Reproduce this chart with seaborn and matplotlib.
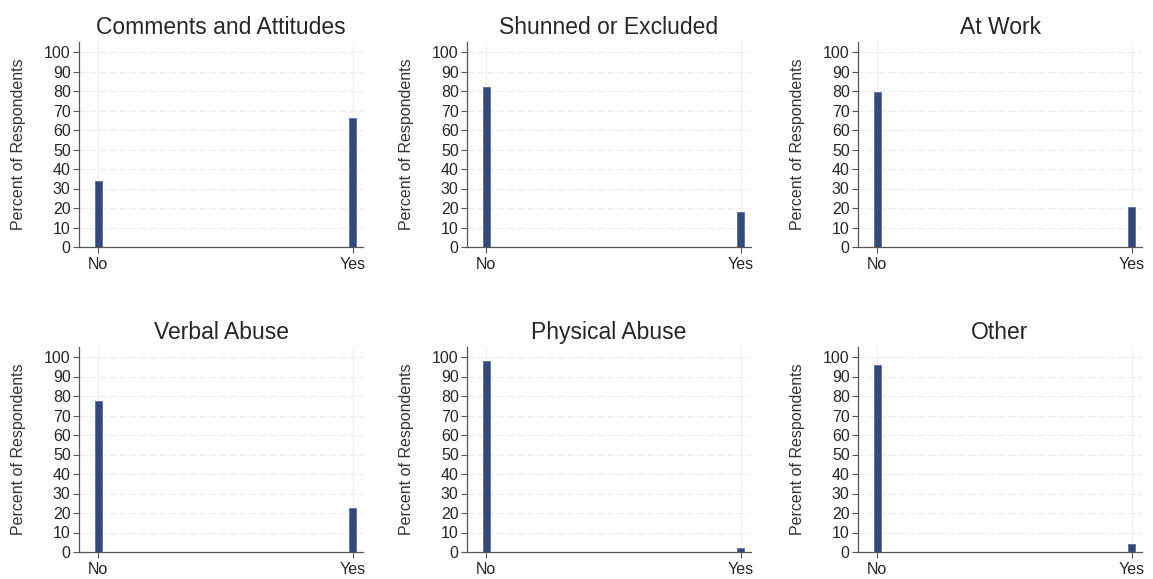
import pandas as pd
import matplotlib.pyplot as plt
import seaborn as sns

# %% data

titles = ['Comments and Attitudes', 'Shunned or Excluded', 'At Work',
          'Verbal Abuse', 'Physical Abuse', 'Other']
answers = ['No', 'Yes']
pct_no = [33.7, 82.0, 79.5, 77.5, 98.0, 96.0]
pct_yes = [66.3, 18.0, 20.5, 22.5, 2.0, 4.0]

# %% plot

sns.set_style('ticks')
plt.rcParams['font.family'] = ['Liberation Sans', 'DejaVu Sans']

fig = plt.figure(figsize=(11.53, 5.79), dpi=100)

lefts = [79, 467, 858]
bottoms = [247, 552]  # pixel row of y=0
ax_w = 284 / 1153
px_per_unit = 1.95  # pixels per percent point

for i, title in enumerate(titles):
    row, col = divmod(i, 3)
    y0 = 1 - bottoms[row] / 579
    ax_h = 105 * px_per_unit / 579
    ax = fig.add_axes([lefts[col] / 1153, y0, ax_w, ax_h])

    df = pd.DataFrame({'x': [0, 1], 'pct': [pct_no[i], pct_yes[i]]})
    for yv in range(10, 101, 10):
        ax.axhline(yv, color='#e8ebf0', lw=0.8, ls=(0, (6, 3)), zorder=0)
    for xv in [0, 1]:
        ax.axvline(xv, color='#eeeeee', lw=0.8, zorder=0)
    sns.barplot(data=df, x='x', y='pct', native_scale=True, width=0.028,
                color='#34497a', edgecolor='#5b6f9e', linewidth=0.6,
                saturation=1, ax=ax, zorder=2)

    ax.set_xlim(-0.075, 1.04)
    ax.set_ylim(0, 105)
    ax.set_yticks(range(0, 101, 10))
    ax.set_xticks([0, 1])
    ax.set_xticklabels(answers)
    ax.tick_params(axis='both', labelsize=11.5, length=4, width=0.8,
                   color='#555555', pad=2, direction='out')
    ax.tick_params(axis='x', pad=3)
    ax.set_xlabel('')
    ax.set_ylabel('Percent of Respondents', fontsize=11.5, labelpad=13,
                  color='#333333')
    ax.set_title(title, fontsize=16.5, pad=6)
    for side in ['top', 'right']:
        ax.spines[side].set_visible(False)
    for side in ['left', 'bottom']:
        ax.spines[side].set_color('#555555')
        ax.spines[side].set_linewidth(0.9)

fig.savefig('out.png', dpi=100)
